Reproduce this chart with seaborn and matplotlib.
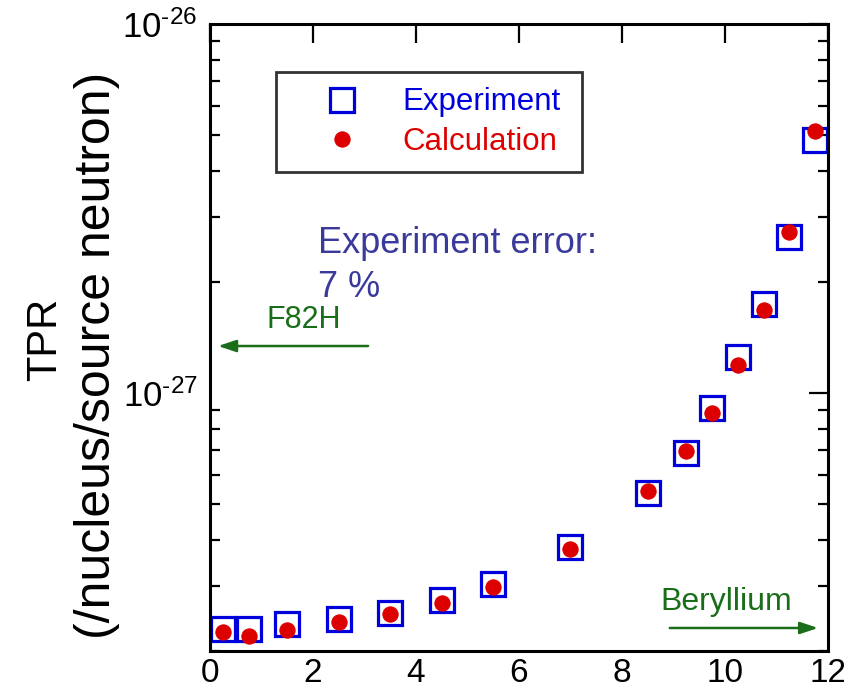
import matplotlib
matplotlib.use("Agg")
import matplotlib.pyplot as plt
import seaborn as sns
import numpy as np
import pandas as pd
from matplotlib.ticker import LogLocator, FixedLocator, NullFormatter, FuncFormatter

# ---- data ----
x_exp = [0.25, 0.75, 1.5, 2.5, 3.5, 4.5, 5.5, 7.0, 8.5, 9.25, 9.75, 10.25, 10.75, 11.25, 11.75]
tpr_exp = [2.29e-28, 2.30e-28, 2.37e-28, 2.44e-28, 2.53e-28, 2.75e-28, 3.04e-28, 3.82e-28,
           5.36e-28, 6.87e-28, 9.12e-28, 1.255e-27, 1.74e-27, 2.64e-27, 4.84e-27]
x_calc = [0.25, 0.75, 1.5, 2.5, 3.5, 4.5, 5.5, 7.0, 8.5, 9.25, 9.75, 10.25, 10.75, 11.25, 11.75]
tpr_calc = [2.245e-28, 2.20e-28, 2.28e-28, 2.39e-28, 2.52e-28, 2.70e-28, 2.98e-28, 3.77e-28,
            5.42e-28, 6.97e-28, 8.81e-28, 1.19e-27, 1.68e-27, 2.73e-27, 5.13e-27]
x_ticks = [0, 2, 4, 6, 8, 10, 12]
y_major = [1e-27, 1e-26]
series_labels = ["Experiment", "Calculation"]

df_exp = pd.DataFrame({"x": x_exp, "tpr": tpr_exp})
df_calc = pd.DataFrame({"x": x_calc, "tpr": tpr_calc})

sns.set_theme(style="white")
plt.rcParams["font.family"] = ["Liberation Sans", "DejaVu Sans"]
plt.rcParams["mathtext.fontset"] = "custom"
plt.rcParams["mathtext.rm"] = "Liberation Sans"
plt.rcParams["mathtext.it"] = "Liberation Sans"
plt.rcParams["mathtext.default"] = "regular"
plt.rcParams["text.color"] = "black"
plt.rcParams["xtick.color"] = "black"
plt.rcParams["ytick.color"] = "black"

BLUE = "#0000dd"
RED = "#dd0000"
GREEN = "#1a6e1a"
SLATE = "#3a3a9c"

fig = plt.figure(figsize=(8.45, 6.96), dpi=100)
ax = fig.add_axes([210 / 845, 1 - 651 / 696, 618 / 845, 627 / 696])

sns.lineplot(data=df_exp, x="x", y="tpr", ax=ax, marker="s", linestyle="none",
             markersize=17, markerfacecolor="none", markeredgecolor=BLUE,
             markeredgewidth=2.3, color=BLUE, estimator=None, sort=False,
             errorbar=None, label=series_labels[0])
sns.lineplot(data=df_calc, x="x", y="tpr", ax=ax, marker="o", linestyle="none",
             markersize=11, markerfacecolor=RED, markeredgecolor=RED,
             color=RED, estimator=None, sort=False, errorbar=None,
             label=series_labels[1])

ax.set_yscale("log")
ax.set_xlim(0, 12)
ax.set_ylim(2e-28, 1e-26)
ax.xaxis.set_major_locator(FixedLocator(x_ticks))
ax.set_xticklabels([str(t) for t in x_ticks])
ax.yaxis.set_major_locator(FixedLocator(y_major))
ax.yaxis.set_major_formatter(FuncFormatter(
    lambda v, p: "$10^{\u2010%d}$" % int(round(-np.log10(v)))))
ax.yaxis.set_minor_locator(LogLocator(base=10, subs=np.arange(2, 10)))
ax.yaxis.set_minor_formatter(NullFormatter())

for s in ax.spines.values():
    s.set_linewidth(2.2)
    s.set_color("black")

ax.tick_params(axis="both", which="major", direction="in", length=13.5, width=1.6,
               top=True, right=True, color="black", labelcolor="black")
ax.tick_params(axis="y", which="minor", direction="in", length=7.5, width=1.6,
               left=True, right=True, color="black")
ax.tick_params(axis="x", which="major", labelsize=24, pad=5)
ax.tick_params(axis="y", which="major", labelsize=25, pad=9)
ax.grid(False)

ax.set_xlabel("")
ax.set_ylabel("")
fig.text(45 / 845, 1 - 339 / 696, "TPR", rotation=90, fontsize=30,
         ha="center", va="center", color="black")
fig.text(97 / 845, 1 - 355 / 696, "(/nucleus/source neutron)", rotation=90,
         fontsize=36, ha="center", va="center", color="black")

leg = ax.legend(loc="center", bbox_to_anchor=(0.107, 0.759, 0.495, 0.169),
                mode="expand", fontsize=22.5, frameon=True, fancybox=False,
                handlelength=3.2, handletextpad=0.35, labelspacing=0.3,
                borderpad=0.5, borderaxespad=0)
leg.get_frame().set_edgecolor("black")
leg.get_frame().set_linewidth(2.0)
leg.get_texts()[0].set_color(BLUE)
leg.get_texts()[1].set_color(RED)

ax.text(0.175, 0.635, "Experiment error:", transform=ax.transAxes, fontsize=26,
        color=SLATE, va="baseline", ha="left")
ax.text(0.175, 0.5646, "7 %", transform=ax.transAxes, fontsize=26,
        color=SLATE, va="baseline", ha="left")

ax.text(0.092, 0.515, "F82H", transform=ax.transAxes, fontsize=22,
        color=GREEN, va="baseline", ha="left")
ax.annotate("", xy=(0.013, 0.4864), xytext=(0.2557, 0.4864),
            xycoords="axes fraction", textcoords="axes fraction",
            arrowprops=dict(arrowstyle="-|>,head_length=0.9,head_width=0.3",
                            color=GREEN, lw=1.8, shrinkA=0, shrinkB=0))

ax.text(0.728, 0.0654, "Beryllium", transform=ax.transAxes, fontsize=23,
        color=GREEN, va="baseline", ha="left")
ax.annotate("", xy=(0.984, 0.0367), xytext=(0.744, 0.0367),
            xycoords="axes fraction", textcoords="axes fraction",
            arrowprops=dict(arrowstyle="-|>,head_length=0.9,head_width=0.3",
                            color=GREEN, lw=1.8, shrinkA=0, shrinkB=0))

fig.savefig("out.png", dpi=100)
